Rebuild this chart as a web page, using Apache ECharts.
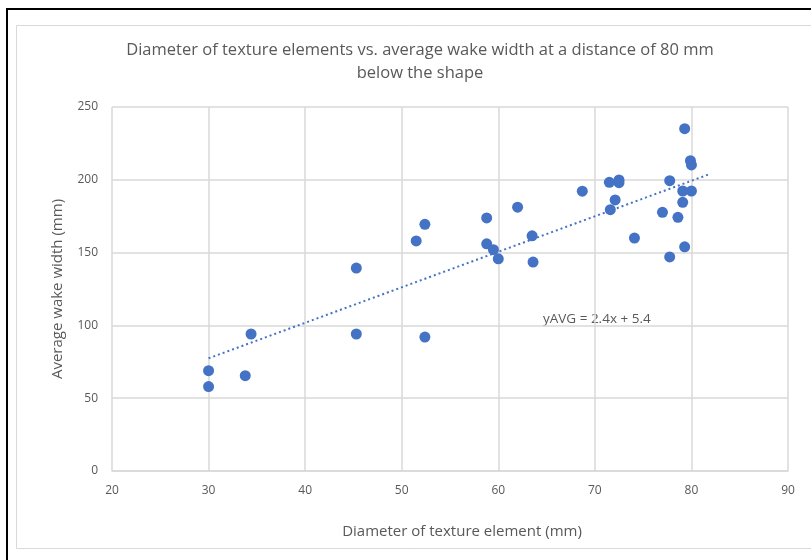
<!DOCTYPE html>
<html><head><meta charset="utf-8">
<script src="https://cdn.jsdelivr.net/npm/echarts@6/dist/echarts.min.js"></script>
<style>html,body{margin:0;padding:0;background:#fff}#c{width:811px;height:560px}</style>
</head><body><div id="c"></div>
<script>
const titleText = 'Diameter of texture elements vs. average wake width at a distance of 80 mm\nbelow the shape';
const xName = 'Diameter of texture element (mm)';
const yName = 'Average wake width (mm)';
const xTicks = [20, 30, 40, 50, 60, 70, 80, 90];
const yTicks = [0, 50, 100, 150, 200, 250];
const diameter = [30.0, 30.0, 33.8, 34.4, 45.3, 45.3, 51.5, 52.4, 52.4, 58.8, 58.8, 59.5, 60.0, 62.0, 63.5, 63.6,
  68.7, 71.5, 71.6, 72.1, 72.5, 72.5, 74.1, 77.0, 77.75, 77.75, 78.6, 79.3, 79.3, 79.1, 79.1, 79.9, 80.0, 80.0];
const wakeWidth = [68.9, 58.0, 65.5, 94.1, 139.4, 94.1, 158.0, 169.4, 92.0, 173.8, 156.0, 152.0, 145.7, 181.2, 161.5, 143.5,
  192.2, 198.3, 179.5, 186.2, 199.9, 198.0, 160.0, 177.7, 199.4, 147.0, 174.2, 235.1, 154.0, 192.3, 184.5, 213.1, 210.2, 192.3];
const trendX = [30, 82];
const trendY = [77.4, 204.2];
const equation = 'yAVG = 2.4x + 5.4';

const pts = diameter.map((d, i) => [d, wakeWidth[i]]);
const trend = trendX.map((d, i) => [d, trendY[i]]);
const font = 'Open Sans';
const grey = '#595959';
const chart = echarts.init(document.getElementById('c'));
chart.setOption({
  animation: false,
  textStyle: {fontFamily: font},
  graphic: [
    {type: 'rect', shape: {x: 7, y: 9, width: 820, height: 570}, style: {fill: 'none', stroke: '#000', lineWidth: 2}, z: 0},
    {type: 'rect', shape: {x: 16.5, y: 25.5, width: 820, height: 523}, style: {fill: 'none', stroke: '#d9d9d9', lineWidth: 1}, z: 0},
    {type: 'text', x: 420, y: 39, style: {text: titleText, fill: grey, font: '16.5px ' + font, align: 'center', verticalAlign: 'top', lineHeight: 23}},
    {type: 'text', left: 543, top: 312, style: {text: equation, fill: grey, font: '13.5px ' + font}}
  ],
  grid: {left: 112, right: 23, top: 107, bottom: 89},
  xAxis: {type: 'value', min: 20, max: 90, interval: 10,
    name: xName, nameLocation: 'middle', nameGap: 53, nameTextStyle: {color: grey, fontSize: 15, padding: [0, 0, 0, 24]},
    axisLine: {show: true, lineStyle: {color: '#d9d9d9', width: 1.5}}, axisTick: {show: false},
    axisLabel: {color: grey, fontSize: 12, margin: 14},
    splitLine: {show: true, lineStyle: {color: '#d9d9d9', width: 1.5}}},
  yAxis: {type: 'value', min: 0, max: 250, interval: 50,
    name: yName, nameLocation: 'middle', nameGap: 47, nameTextStyle: {color: grey, fontSize: 15},
    axisLine: {show: false}, axisTick: {show: false},
    axisLabel: {color: grey, fontSize: 12, margin: 14},
    splitLine: {show: true, lineStyle: {color: '#d9d9d9', width: 1.5}}},
  series: [
    {type: 'line', data: trend, symbol: 'none', lineStyle: {color: '#4472C4', width: 2, type: [2, 3]}, z: 2},
    {type: 'scatter', data: pts, symbolSize: 11, itemStyle: {color: '#4472C4', opacity: 1}, z: 3}
  ]
});
</script></body></html>
